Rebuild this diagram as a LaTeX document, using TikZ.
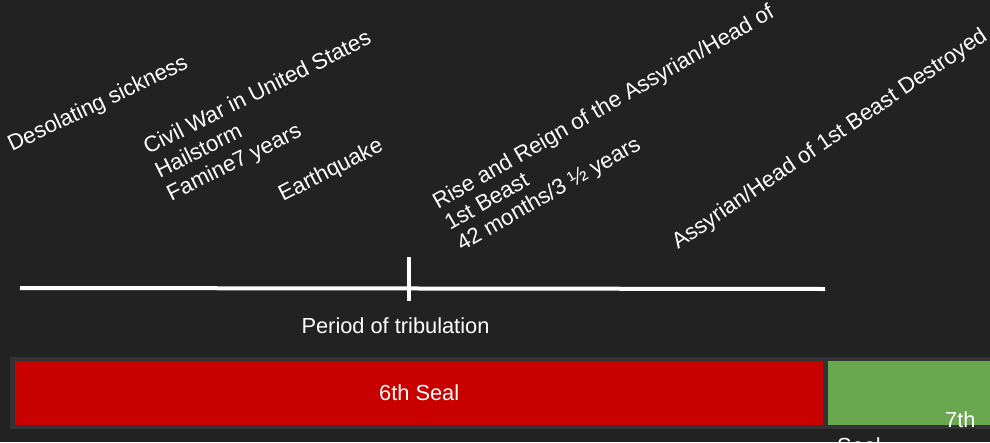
\documentclass[tikz,border=0pt]{standalone}
\usepackage{fontspec}
\setmainfont{Liberation Sans}
\usepackage{xcolor}
\usepackage{tikz}
\usetikzlibrary{positioning,calc}
\definecolor{bgdark}{HTML}{222222}
\definecolor{framegray}{HTML}{333333}
\definecolor{sealred}{HTML}{C80000}
\definecolor{sealgreen}{HTML}{6AA84F}

\begin{document}
\begin{tikzpicture}[x=1pt, y=-1pt,
    txt/.style={text=white, inner sep=0pt, font=\fontsize{21.8}{26}\selectfont},
    event/.style={txt, anchor=base west, font=\fontsize{22.2}{26}\selectfont},
    cell/.style={inner sep=0pt, anchor=north west, minimum height=64pt}]
    % Dark background
    \fill [bgdark] (0,0) rectangle (990,442);
    \useasboundingbox (0,0) rectangle (990,442);
    \clip (0,0) rectangle (990,442);

    % Desolating sickness
    \node [event, rotate=25.5] (sickness) at (12,152) {Desolating sickness};

    % Civil war, hailstorm, famine
    \begin{scope}[shift={(148,155)}, rotate=26.5, transform shape]
        \node [event] (civilwar) at (0,0) {Civil War in United States};
        \node [event] (hailstorm) at (0,26) {Hailstorm};
        \node [event] (famine) at (0,52) {Famine7 years};
    \end{scope}

    % Earthquake
    \node [event, rotate=27] (earthquake) at (283,202) {Earthquake};

    % Rise and reign
    \begin{scope}[shift={(438,210)}, rotate=29.8, transform shape]
        \node [event] (rise) at (0,0) {Rise and Reign of the Assyrian/Head of};
        \node [event] (beast) at (0,24) {1st Beast};
        \node [event] (months) at (0,48) {42 months/3 ½ years};
    \end{scope}

    % Destroyed
    \node [event, rotate=34.2] (destroyed) at (678,250) {Assyrian/Head of 1st Beast Destroyed};

    % Timeline with tick
    \coordinate (tlstart) at (20,288);
    \coordinate (tlend) at (825,289);
    \coordinate (ticktop) at (409,257);
    \coordinate (tickbottom) at (409,301);
    \draw [white, line width=4pt] (tlstart) -- (tlend);
    \draw [white, line width=4pt] (ticktop) -- (tickbottom);

    % Label under the timeline
    \node [txt, anchor=base] (period) at (395.5,333) {Period of tribulation};

    % Seal bar
    \node [fill=framegray, inner sep=0pt, anchor=north west, minimum width=980pt, minimum height=72pt] (bar) at (10,357) {};
    \node [cell, fill=sealred, minimum width=808pt, txt] (sixth) at (15,361) {6th Seal};
    \node [cell, fill=sealgreen, minimum width=162pt] (seventh) at (828,361) {};

    % 7th Seal text
    \node [txt, anchor=base west] (seventhA) at (945,427) {7th};
    \node [txt, anchor=base west] (seventhB) at (837,453) {Seal};
\end{tikzpicture}
\end{document}
